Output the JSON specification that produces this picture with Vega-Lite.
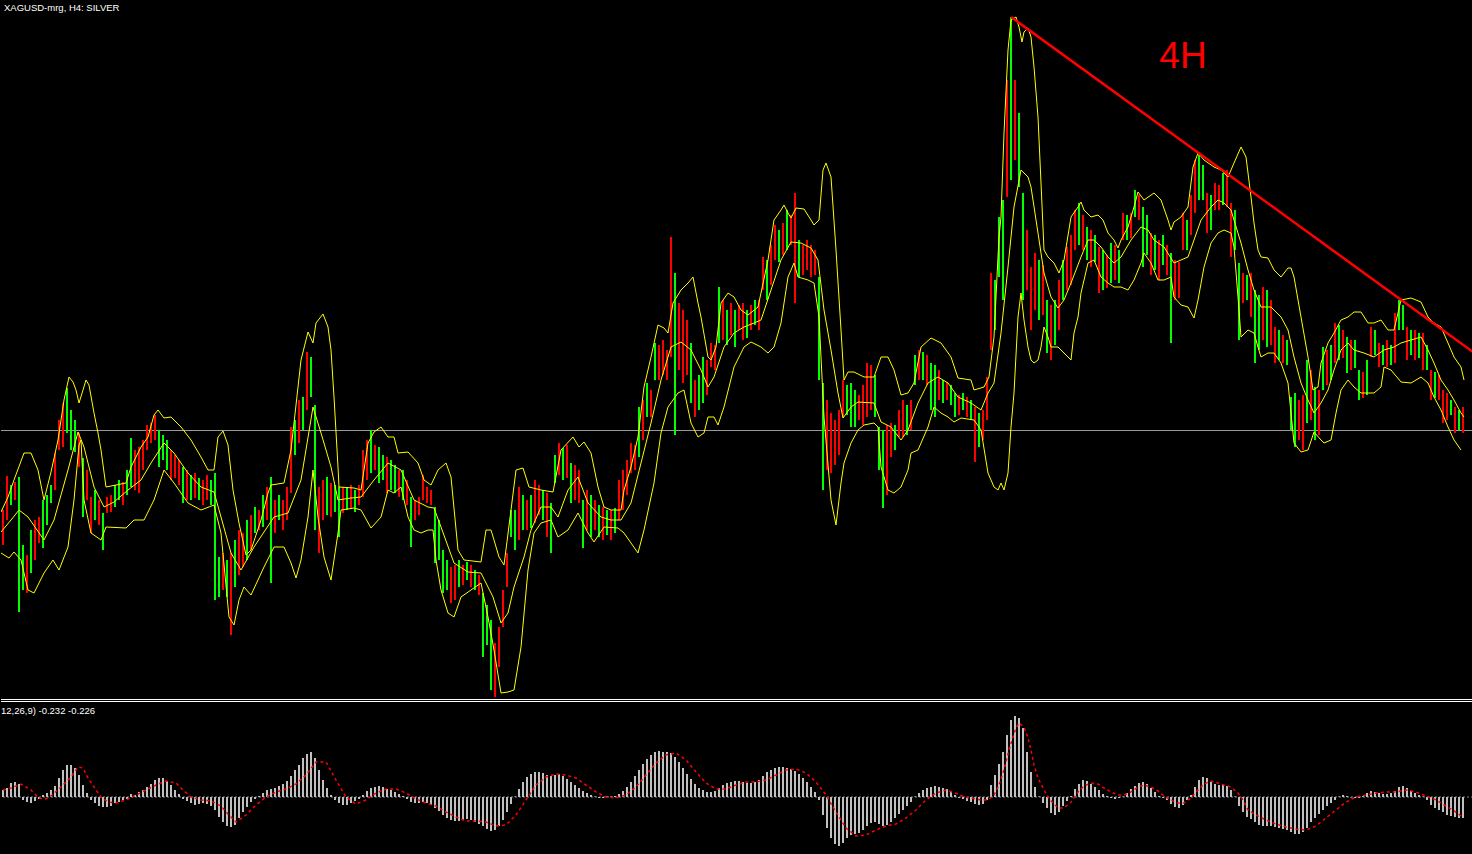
{
"$schema":"https://vega.github.io/schema/vega-lite/v6.json",
"background":"#000000",
"padding":0,
"spacing":0,
"config":{"view":{"stroke":null},"concat":{"spacing":0}},
"resolve":{"scale":{"x":"independent","y":"independent"}},
"datasets":{
"bars":[
{"t":0,"h":16.90,"l":16.55,"d":"d","m":0.078},{"t":4,"h":17.24,"l":16.80,"d":"d","m":0.100},{"t":8,"h":17.15,"l":16.95,"d":"u","m":0.156},{"t":12,"h":17.18,"l":17.00,"d":"d","m":0.167},{"t":16,"h":17.23,"l":15.88,"d":"u","m":0.144},{"t":20,"h":16.55,"l":16.10,"d":"u","m":-0.033},{"t":24,"h":16.45,"l":16.07,"d":"d","m":-0.056},{"t":28,"h":16.70,"l":16.27,"d":"u","m":-0.067},{"t":32,"h":16.80,"l":16.40,"d":"d","m":-0.044},{"t":36,"h":16.83,"l":16.57,"d":"d","m":-0.022},
{"t":40,"h":17.00,"l":16.52,"d":"u","m":0.022},{"t":44,"h":17.05,"l":16.75,"d":"u","m":0.044},{"t":48,"h":17.15,"l":16.97,"d":"u","m":0.078},{"t":52,"h":17.47,"l":17.10,"d":"d","m":0.122},{"t":56,"h":17.80,"l":17.50,"d":"d","m":0.211},{"t":60,"h":17.97,"l":17.53,"d":"d","m":0.300},{"t":64,"h":18.12,"l":17.67,"d":"u","m":0.356},{"t":68,"h":17.90,"l":17.50,"d":"u","m":0.356},{"t":72,"h":17.80,"l":17.48,"d":"u","m":0.322},{"t":76,"h":17.67,"l":17.33,"d":"d","m":0.244},
{"t":80,"h":17.42,"l":16.83,"d":"u","m":0.133},{"t":84,"h":17.30,"l":17.00,"d":"d","m":0.044},{"t":88,"h":17.03,"l":16.67,"d":"d","m":-0.033},{"t":92,"h":17.10,"l":16.80,"d":"u","m":-0.067},{"t":96,"h":17.00,"l":16.75,"d":"d","m":-0.100},{"t":100,"h":16.87,"l":16.50,"d":"u","m":-0.111},{"t":104,"h":17.03,"l":16.87,"d":"d","m":-0.111},{"t":108,"h":17.05,"l":16.88,"d":"d","m":-0.100},{"t":112,"h":17.15,"l":16.93,"d":"u","m":-0.067},{"t":116,"h":17.20,"l":17.00,"d":"u","m":-0.056},
{"t":120,"h":17.18,"l":16.95,"d":"d","m":-0.033},{"t":124,"h":17.30,"l":17.05,"d":"u","m":-0.022},{"t":128,"h":17.62,"l":17.13,"d":"u","m":0.033},{"t":132,"h":17.50,"l":17.10,"d":"d","m":0.022},{"t":136,"h":17.53,"l":17.07,"d":"d","m":0.056},{"t":140,"h":17.60,"l":17.30,"d":"d","m":0.078},{"t":144,"h":17.75,"l":17.50,"d":"d","m":0.111},{"t":148,"h":17.77,"l":17.57,"d":"d","m":0.144},{"t":152,"h":17.85,"l":17.60,"d":"d","m":0.189},{"t":156,"h":17.70,"l":17.33,"d":"u","m":0.211},
{"t":160,"h":17.65,"l":17.40,"d":"u","m":0.211},{"t":164,"h":17.60,"l":17.30,"d":"u","m":0.178},{"t":168,"h":17.50,"l":17.20,"d":"d","m":0.133},{"t":172,"h":17.45,"l":17.22,"d":"d","m":0.078},{"t":176,"h":17.40,"l":17.15,"d":"d","m":0.033},{"t":180,"h":17.33,"l":16.97,"d":"u","m":-0.022},{"t":184,"h":17.30,"l":17.00,"d":"d","m":-0.044},{"t":188,"h":17.25,"l":17.00,"d":"u","m":-0.067},{"t":192,"h":17.27,"l":17.02,"d":"d","m":-0.089},{"t":196,"h":17.22,"l":17.00,"d":"u","m":-0.078},
{"t":200,"h":17.20,"l":16.95,"d":"d","m":-0.067},{"t":204,"h":17.25,"l":17.00,"d":"d","m":-0.078},{"t":208,"h":17.20,"l":16.95,"d":"u","m":-0.100},{"t":212,"h":17.27,"l":16.00,"d":"u","m":-0.144},{"t":216,"h":16.43,"l":16.03,"d":"u","m":-0.222},{"t":220,"h":16.47,"l":16.10,"d":"d","m":-0.278},{"t":224,"h":16.40,"l":16.03,"d":"u","m":-0.322},{"t":228,"h":16.47,"l":15.65,"d":"d","m":-0.333},{"t":232,"h":16.60,"l":16.13,"d":"u","m":-0.311},{"t":236,"h":16.70,"l":16.25,"d":"d","m":-0.233},
{"t":240,"h":16.67,"l":16.33,"d":"d","m":-0.167},{"t":244,"h":16.80,"l":16.40,"d":"u","m":-0.111},{"t":248,"h":16.85,"l":16.50,"d":"d","m":-0.056},{"t":252,"h":16.93,"l":16.67,"d":"u","m":-0.022},{"t":256,"h":16.90,"l":16.70,"d":"d","m":0.011},{"t":260,"h":17.05,"l":16.73,"d":"u","m":0.044},{"t":264,"h":17.13,"l":16.80,"d":"d","m":0.078},{"t":268,"h":17.23,"l":16.17,"d":"u","m":0.089},{"t":272,"h":17.00,"l":16.67,"d":"d","m":0.100},{"t":276,"h":17.05,"l":16.80,"d":"u","m":0.122},
{"t":280,"h":17.00,"l":16.70,"d":"d","m":0.144},{"t":284,"h":17.13,"l":16.80,"d":"d","m":0.178},{"t":288,"h":17.73,"l":17.07,"d":"d","m":0.233},{"t":292,"h":17.80,"l":17.45,"d":"u","m":0.300},{"t":296,"h":18.00,"l":17.57,"d":"d","m":0.356},{"t":300,"h":18.03,"l":17.70,"d":"u","m":0.433},{"t":304,"h":18.48,"l":17.90,"d":"d","m":0.478},{"t":308,"h":18.43,"l":18.03,"d":"u","m":0.500},{"t":312,"h":17.95,"l":16.70,"d":"u","m":0.433},{"t":316,"h":17.13,"l":16.47,"d":"d","m":0.300},
{"t":320,"h":17.20,"l":16.80,"d":"d","m":0.189},{"t":324,"h":17.23,"l":16.85,"d":"u","m":0.100},{"t":328,"h":17.17,"l":16.83,"d":"d","m":0.022},{"t":332,"h":17.15,"l":16.88,"d":"u","m":-0.033},{"t":336,"h":17.13,"l":16.63,"d":"u","m":-0.067},{"t":340,"h":17.13,"l":16.87,"d":"d","m":-0.089},{"t":344,"h":17.12,"l":16.90,"d":"u","m":-0.089},{"t":348,"h":17.15,"l":16.92,"d":"d","m":-0.067},{"t":352,"h":17.10,"l":16.88,"d":"u","m":-0.044},{"t":356,"h":17.15,"l":16.95,"d":"d","m":-0.022},
{"t":360,"h":17.50,"l":17.03,"d":"d","m":0.022},{"t":364,"h":17.60,"l":17.20,"d":"d","m":0.067},{"t":368,"h":17.70,"l":17.27,"d":"u","m":0.100},{"t":372,"h":17.55,"l":17.30,"d":"d","m":0.111},{"t":376,"h":17.53,"l":17.17,"d":"u","m":0.122},{"t":380,"h":17.45,"l":17.20,"d":"u","m":0.111},{"t":384,"h":17.43,"l":17.07,"d":"d","m":0.089},{"t":388,"h":17.40,"l":17.10,"d":"u","m":0.078},{"t":392,"h":17.35,"l":17.07,"d":"u","m":0.056},{"t":396,"h":17.30,"l":17.03,"d":"d","m":0.033},
{"t":400,"h":17.30,"l":17.00,"d":"u","m":0.011},{"t":404,"h":17.20,"l":16.95,"d":"d","m":-0.022},{"t":408,"h":17.03,"l":16.53,"d":"u","m":-0.056},{"t":412,"h":17.00,"l":16.80,"d":"d","m":-0.067},{"t":416,"h":17.03,"l":16.85,"d":"d","m":-0.067},{"t":420,"h":17.25,"l":17.00,"d":"d","m":-0.056},{"t":424,"h":17.13,"l":16.97,"d":"d","m":-0.067},{"t":428,"h":17.10,"l":16.95,"d":"d","m":-0.089},{"t":432,"h":16.93,"l":16.37,"d":"u","m":-0.122},{"t":436,"h":16.80,"l":16.40,"d":"u","m":-0.156},
{"t":440,"h":16.50,"l":16.07,"d":"u","m":-0.200},{"t":444,"h":16.40,"l":16.10,"d":"u","m":-0.233},{"t":448,"h":16.33,"l":15.97,"d":"d","m":-0.256},{"t":452,"h":16.35,"l":16.00,"d":"d","m":-0.267},{"t":456,"h":16.40,"l":16.13,"d":"u","m":-0.267},{"t":460,"h":16.35,"l":16.15,"d":"d","m":-0.256},{"t":464,"h":16.38,"l":16.20,"d":"u","m":-0.244},{"t":468,"h":16.35,"l":16.13,"d":"d","m":-0.256},{"t":472,"h":16.30,"l":16.10,"d":"u","m":-0.278},{"t":476,"h":16.25,"l":16.05,"d":"d","m":-0.300},
{"t":480,"h":16.07,"l":15.43,"d":"u","m":-0.322},{"t":484,"h":15.95,"l":15.55,"d":"u","m":-0.356},{"t":488,"h":15.80,"l":15.10,"d":"u","m":-0.378},{"t":492,"h":15.57,"l":15.03,"d":"d","m":-0.367},{"t":496,"h":15.73,"l":15.33,"d":"d","m":-0.322},{"t":500,"h":16.10,"l":15.73,"d":"d","m":-0.256},{"t":504,"h":16.47,"l":16.13,"d":"d","m":-0.167},{"t":508,"h":16.90,"l":16.63,"d":"u","m":-0.078},{"t":512,"h":16.90,"l":16.50,"d":"u","m":0.005},{"t":516,"h":17.13,"l":16.60,"d":"d","m":0.089},
{"t":520,"h":17.05,"l":16.70,"d":"u","m":0.167},{"t":524,"h":17.00,"l":16.70,"d":"d","m":0.222},{"t":528,"h":17.05,"l":16.72,"d":"u","m":0.256},{"t":532,"h":17.20,"l":16.77,"d":"d","m":0.278},{"t":536,"h":17.15,"l":16.85,"d":"d","m":0.278},{"t":540,"h":17.10,"l":16.80,"d":"u","m":0.267},{"t":544,"h":17.07,"l":16.63,"d":"d","m":0.244},{"t":548,"h":16.97,"l":16.47,"d":"u","m":0.233},{"t":552,"h":17.45,"l":17.17,"d":"u","m":0.244},{"t":556,"h":17.57,"l":17.25,"d":"d","m":0.256},
{"t":560,"h":17.52,"l":17.20,"d":"u","m":0.233},{"t":564,"h":17.55,"l":17.22,"d":"d","m":0.200},{"t":568,"h":17.37,"l":16.97,"d":"u","m":0.167},{"t":572,"h":17.35,"l":17.00,"d":"d","m":0.133},{"t":576,"h":17.30,"l":16.97,"d":"d","m":0.100},{"t":580,"h":17.00,"l":16.52,"d":"u","m":0.067},{"t":584,"h":17.10,"l":16.70,"d":"d","m":0.044},{"t":588,"h":17.05,"l":16.63,"d":"u","m":0.022},{"t":592,"h":17.00,"l":16.70,"d":"d","m":0.005},{"t":596,"h":16.95,"l":16.63,"d":"u","m":-0.011},
{"t":600,"h":16.93,"l":16.60,"d":"d","m":-0.011},{"t":604,"h":16.90,"l":16.65,"d":"u","m":0.005},{"t":608,"h":16.90,"l":16.60,"d":"d","m":0.005},{"t":612,"h":16.92,"l":16.67,"d":"u","m":0.011},{"t":616,"h":17.20,"l":16.80,"d":"d","m":0.033},{"t":620,"h":17.30,"l":16.90,"d":"d","m":0.067},{"t":624,"h":17.40,"l":17.05,"d":"d","m":0.111},{"t":628,"h":17.57,"l":17.27,"d":"d","m":0.167},{"t":632,"h":17.55,"l":17.30,"d":"d","m":0.233},{"t":636,"h":17.93,"l":17.43,"d":"u","m":0.300},
{"t":640,"h":18.00,"l":17.60,"d":"d","m":0.367},{"t":644,"h":18.17,"l":17.83,"d":"u","m":0.422},{"t":648,"h":18.10,"l":17.83,"d":"d","m":0.467},{"t":652,"h":18.57,"l":18.20,"d":"u","m":0.500},{"t":656,"h":18.55,"l":18.20,"d":"d","m":0.511},{"t":660,"h":18.60,"l":18.25,"d":"d","m":0.500},{"t":664,"h":18.50,"l":18.20,"d":"d","m":0.500},{"t":668,"h":19.63,"l":18.43,"d":"d","m":0.489},{"t":672,"h":19.27,"l":17.65,"d":"u","m":0.444},{"t":676,"h":18.97,"l":18.30,"d":"d","m":0.389},
{"t":680,"h":18.90,"l":18.17,"d":"d","m":0.322},{"t":684,"h":18.80,"l":18.25,"d":"d","m":0.256},{"t":688,"h":18.57,"l":17.97,"d":"u","m":0.200},{"t":692,"h":18.20,"l":17.83,"d":"d","m":0.144},{"t":696,"h":18.25,"l":17.90,"d":"u","m":0.100},{"t":700,"h":18.43,"l":17.97,"d":"u","m":0.078},{"t":704,"h":18.40,"l":18.05,"d":"d","m":0.056},{"t":708,"h":18.57,"l":18.33,"d":"d","m":0.056},{"t":712,"h":18.55,"l":18.30,"d":"d","m":0.067},{"t":716,"h":19.13,"l":18.57,"d":"u","m":0.100},
{"t":720,"h":19.00,"l":18.60,"d":"d","m":0.133},{"t":724,"h":18.90,"l":18.55,"d":"u","m":0.156},{"t":728,"h":18.97,"l":18.65,"d":"d","m":0.167},{"t":732,"h":18.90,"l":18.53,"d":"u","m":0.178},{"t":736,"h":18.95,"l":18.70,"d":"d","m":0.178},{"t":740,"h":18.97,"l":18.60,"d":"d","m":0.167},{"t":744,"h":18.90,"l":18.62,"d":"u","m":0.156},{"t":748,"h":18.95,"l":18.70,"d":"d","m":0.156},{"t":752,"h":19.00,"l":18.75,"d":"u","m":0.167},{"t":756,"h":19.00,"l":18.70,"d":"d","m":0.189},
{"t":760,"h":19.43,"l":19.10,"d":"d","m":0.233},{"t":764,"h":19.40,"l":19.00,"d":"u","m":0.278},{"t":768,"h":19.55,"l":19.15,"d":"d","m":0.300},{"t":772,"h":19.75,"l":19.40,"d":"d","m":0.322},{"t":776,"h":19.70,"l":19.38,"d":"u","m":0.333},{"t":780,"h":19.77,"l":19.45,"d":"d","m":0.333},{"t":784,"h":19.90,"l":19.50,"d":"u","m":0.322},{"t":788,"h":19.85,"l":19.55,"d":"d","m":0.311},{"t":792,"h":20.07,"l":18.97,"d":"d","m":0.289},{"t":796,"h":19.60,"l":19.23,"d":"u","m":0.256},
{"t":800,"h":19.55,"l":19.25,"d":"d","m":0.211},{"t":804,"h":19.60,"l":19.30,"d":"d","m":0.167},{"t":808,"h":19.55,"l":19.23,"d":"d","m":0.111},{"t":812,"h":19.50,"l":19.25,"d":"d","m":0.056},{"t":816,"h":19.23,"l":18.20,"d":"u","m":-0.033},{"t":820,"h":18.17,"l":17.10,"d":"u","m":-0.200},{"t":824,"h":18.00,"l":17.30,"d":"d","m":-0.344},{"t":828,"h":17.87,"l":17.27,"d":"d","m":-0.456},{"t":832,"h":17.80,"l":17.35,"d":"d","m":-0.522},{"t":836,"h":17.90,"l":17.45,"d":"d","m":-0.544},
{"t":840,"h":18.20,"l":17.83,"d":"d","m":-0.511},{"t":844,"h":18.15,"l":17.85,"d":"u","m":-0.456},{"t":848,"h":18.17,"l":17.73,"d":"u","m":-0.422},{"t":852,"h":18.10,"l":17.73,"d":"u","m":-0.411},{"t":856,"h":18.05,"l":17.80,"d":"d","m":-0.400},{"t":860,"h":18.15,"l":17.75,"d":"d","m":-0.367},{"t":864,"h":18.37,"l":17.83,"d":"d","m":-0.322},{"t":868,"h":18.35,"l":17.90,"d":"d","m":-0.289},{"t":872,"h":18.25,"l":17.83,"d":"u","m":-0.278},{"t":876,"h":17.73,"l":17.30,"d":"u","m":-0.300},
{"t":880,"h":17.70,"l":16.92,"d":"u","m":-0.322},{"t":884,"h":17.75,"l":17.05,"d":"d","m":-0.311},{"t":888,"h":17.77,"l":17.43,"d":"d","m":-0.278},{"t":892,"h":17.75,"l":17.50,"d":"u","m":-0.233},{"t":896,"h":17.90,"l":17.63,"d":"d","m":-0.189},{"t":900,"h":18.00,"l":17.63,"d":"d","m":-0.144},{"t":904,"h":17.95,"l":17.65,"d":"u","m":-0.100},{"t":908,"h":18.00,"l":17.70,"d":"d","m":-0.056},{"t":912,"h":18.45,"l":18.15,"d":"u","m":0.005},{"t":916,"h":18.50,"l":18.20,"d":"d","m":0.044},
{"t":920,"h":18.48,"l":18.20,"d":"u","m":0.078},{"t":924,"h":18.45,"l":18.15,"d":"d","m":0.100},{"t":928,"h":18.37,"l":17.90,"d":"u","m":0.111},{"t":932,"h":18.35,"l":17.83,"d":"u","m":0.122},{"t":936,"h":18.30,"l":18.00,"d":"d","m":0.111},{"t":940,"h":18.20,"l":17.97,"d":"u","m":0.100},{"t":944,"h":18.18,"l":18.00,"d":"d","m":0.089},{"t":948,"h":18.15,"l":17.95,"d":"u","m":0.067},{"t":952,"h":18.07,"l":17.83,"d":"u","m":0.022},{"t":956,"h":18.05,"l":17.85,"d":"d","m":-0.011},
{"t":960,"h":18.07,"l":17.90,"d":"u","m":-0.022},{"t":964,"h":18.03,"l":17.83,"d":"d","m":-0.044},{"t":968,"h":18.00,"l":17.80,"d":"u","m":-0.056},{"t":972,"h":17.93,"l":17.38,"d":"d","m":-0.078},{"t":976,"h":17.87,"l":17.53,"d":"u","m":-0.089},{"t":980,"h":17.90,"l":17.60,"d":"d","m":-0.078},{"t":984,"h":18.23,"l":17.80,"d":"d","m":-0.033},{"t":988,"h":19.27,"l":18.50,"d":"d","m":0.133},{"t":992,"h":19.20,"l":18.70,"d":"u","m":0.244},{"t":996,"h":19.83,"l":19.23,"d":"u","m":0.367},
{"t":1000,"h":20.00,"l":19.00,"d":"u","m":0.500},{"t":1004,"h":21.20,"l":20.03,"d":"d","m":0.689},{"t":1008,"h":21.83,"l":20.20,"d":"u","m":0.856},{"t":1012,"h":21.20,"l":20.40,"d":"d","m":0.900},{"t":1016,"h":20.87,"l":20.13,"d":"u","m":0.878},{"t":1020,"h":20.07,"l":19.00,"d":"u","m":0.767},{"t":1024,"h":19.70,"l":19.10,"d":"d","m":0.500},{"t":1028,"h":19.33,"l":18.70,"d":"d","m":0.278},{"t":1032,"h":19.47,"l":18.90,"d":"d","m":0.111},{"t":1036,"h":19.40,"l":18.80,"d":"u","m":0.005},
{"t":1040,"h":19.35,"l":18.85,"d":"d","m":-0.067},{"t":1044,"h":19.00,"l":18.47,"d":"u","m":-0.122},{"t":1048,"h":18.95,"l":18.40,"d":"d","m":-0.178},{"t":1052,"h":19.00,"l":18.55,"d":"u","m":-0.200},{"t":1056,"h":19.20,"l":18.70,"d":"d","m":-0.167},{"t":1060,"h":19.40,"l":19.00,"d":"u","m":-0.100},{"t":1064,"h":19.53,"l":19.10,"d":"d","m":-0.044},{"t":1068,"h":19.65,"l":19.15,"d":"d","m":0.011},{"t":1072,"h":19.90,"l":19.50,"d":"d","m":0.089},{"t":1076,"h":19.97,"l":19.55,"d":"u","m":0.144},
{"t":1080,"h":19.85,"l":19.50,"d":"d","m":0.189},{"t":1084,"h":19.73,"l":19.40,"d":"u","m":0.178},{"t":1088,"h":19.70,"l":19.33,"d":"d","m":0.144},{"t":1092,"h":19.65,"l":19.38,"d":"u","m":0.111},{"t":1096,"h":19.53,"l":19.07,"d":"d","m":0.078},{"t":1100,"h":19.50,"l":19.10,"d":"u","m":0.033},{"t":1104,"h":19.45,"l":19.12,"d":"d","m":0.011},{"t":1108,"h":19.57,"l":19.17,"d":"u","m":-0.011},{"t":1112,"h":19.55,"l":19.20,"d":"d","m":-0.022},{"t":1116,"h":19.50,"l":19.17,"d":"u","m":-0.011},
{"t":1120,"h":19.87,"l":19.60,"d":"d","m":0.005},{"t":1124,"h":19.85,"l":19.60,"d":"u","m":0.044},{"t":1128,"h":19.87,"l":19.62,"d":"d","m":0.089},{"t":1132,"h":20.10,"l":19.83,"d":"u","m":0.122},{"t":1136,"h":20.05,"l":19.80,"d":"d","m":0.156},{"t":1140,"h":19.93,"l":19.33,"d":"u","m":0.167},{"t":1144,"h":19.85,"l":19.45,"d":"u","m":0.144},{"t":1148,"h":19.67,"l":19.25,"d":"d","m":0.100},{"t":1152,"h":19.65,"l":19.30,"d":"u","m":0.056},{"t":1156,"h":19.60,"l":19.20,"d":"d","m":0.011},
{"t":1160,"h":19.65,"l":19.35,"d":"u","m":-0.011},{"t":1164,"h":19.55,"l":19.25,"d":"d","m":-0.033},{"t":1168,"h":19.47,"l":18.57,"d":"u","m":-0.078},{"t":1172,"h":19.40,"l":19.00,"d":"d","m":-0.111},{"t":1176,"h":19.38,"l":19.02,"d":"d","m":-0.122},{"t":1180,"h":19.87,"l":19.50,"d":"d","m":-0.089},{"t":1184,"h":19.80,"l":19.50,"d":"u","m":-0.033},{"t":1188,"h":20.05,"l":19.65,"d":"d","m":0.022},{"t":1192,"h":20.40,"l":19.87,"d":"d","m":0.111},{"t":1196,"h":20.45,"l":20.00,"d":"u","m":0.189},
{"t":1200,"h":20.35,"l":20.00,"d":"u","m":0.222},{"t":1204,"h":20.07,"l":19.67,"d":"d","m":0.211},{"t":1208,"h":20.05,"l":19.70,"d":"u","m":0.167},{"t":1212,"h":20.17,"l":19.90,"d":"d","m":0.144},{"t":1216,"h":20.15,"l":19.90,"d":"d","m":0.133},{"t":1220,"h":20.27,"l":19.95,"d":"u","m":0.133},{"t":1224,"h":20.30,"l":19.93,"d":"d","m":0.122},{"t":1228,"h":19.97,"l":19.43,"d":"d","m":0.078},{"t":1232,"h":19.90,"l":19.50,"d":"u","m":0.005},{"t":1236,"h":19.37,"l":18.60,"d":"u","m":-0.100},
{"t":1240,"h":19.27,"l":18.97,"d":"d","m":-0.167},{"t":1244,"h":19.25,"l":19.00,"d":"u","m":-0.222},{"t":1248,"h":19.27,"l":18.83,"d":"d","m":-0.244},{"t":1252,"h":19.10,"l":18.37,"d":"u","m":-0.278},{"t":1256,"h":19.05,"l":18.50,"d":"u","m":-0.311},{"t":1260,"h":19.13,"l":18.60,"d":"d","m":-0.322},{"t":1264,"h":19.10,"l":18.53,"d":"u","m":-0.322},{"t":1268,"h":19.00,"l":18.55,"d":"d","m":-0.322},{"t":1272,"h":18.73,"l":18.37,"d":"d","m":-0.333},{"t":1276,"h":18.70,"l":18.40,"d":"u","m":-0.344},
{"t":1280,"h":18.65,"l":18.37,"d":"d","m":-0.356},{"t":1284,"h":18.60,"l":18.35,"d":"u","m":-0.367},{"t":1288,"h":18.03,"l":17.70,"d":"u","m":-0.389},{"t":1292,"h":18.07,"l":17.53,"d":"u","m":-0.411},{"t":1296,"h":18.00,"l":17.60,"d":"d","m":-0.411},{"t":1300,"h":18.05,"l":17.50,"d":"d","m":-0.389},{"t":1304,"h":18.40,"l":17.77,"d":"u","m":-0.344},{"t":1308,"h":18.30,"l":17.80,"d":"d","m":-0.278},{"t":1312,"h":18.13,"l":17.60,"d":"u","m":-0.233},{"t":1316,"h":18.10,"l":17.65,"d":"d","m":-0.189},
{"t":1320,"h":18.53,"l":18.10,"d":"u","m":-0.144},{"t":1324,"h":18.50,"l":18.15,"d":"d","m":-0.100},{"t":1328,"h":18.55,"l":18.20,"d":"u","m":-0.067},{"t":1332,"h":18.77,"l":18.37,"d":"d","m":-0.033},{"t":1336,"h":18.75,"l":18.40,"d":"u","m":0.005},{"t":1340,"h":18.70,"l":18.42,"d":"d","m":0.022},{"t":1344,"h":18.63,"l":18.27,"d":"u","m":0.011},{"t":1348,"h":18.60,"l":18.30,"d":"d","m":-0.005},{"t":1352,"h":18.60,"l":18.32,"d":"u","m":-0.011},{"t":1356,"h":18.30,"l":18.00,"d":"u","m":-0.011},
{"t":1360,"h":18.28,"l":18.02,"d":"d","m":0.011},{"t":1364,"h":18.40,"l":18.05,"d":"u","m":0.044},{"t":1368,"h":18.73,"l":18.43,"d":"d","m":0.067},{"t":1372,"h":18.70,"l":18.45,"d":"u","m":0.056},{"t":1376,"h":18.57,"l":18.33,"d":"d","m":0.044},{"t":1380,"h":18.55,"l":18.35,"d":"u","m":0.033},{"t":1384,"h":18.60,"l":18.33,"d":"d","m":0.033},{"t":1388,"h":18.55,"l":18.35,"d":"u","m":0.044},{"t":1392,"h":18.87,"l":18.37,"d":"d","m":0.067},{"t":1396,"h":19.00,"l":18.70,"d":"u","m":0.111},
{"t":1400,"h":18.95,"l":18.70,"d":"u","m":0.122},{"t":1404,"h":18.73,"l":18.40,"d":"d","m":0.100},{"t":1408,"h":18.70,"l":18.45,"d":"u","m":0.067},{"t":1412,"h":18.70,"l":18.40,"d":"d","m":0.044},{"t":1416,"h":18.67,"l":18.42,"d":"u","m":0.022},{"t":1420,"h":18.67,"l":18.30,"d":"d","m":0.005},{"t":1424,"h":18.55,"l":18.30,"d":"u","m":-0.033},{"t":1428,"h":18.30,"l":18.00,"d":"d","m":-0.089},{"t":1432,"h":18.28,"l":18.02,"d":"u","m":-0.122},{"t":1436,"h":18.25,"l":18.00,"d":"d","m":-0.144},
{"t":1440,"h":18.10,"l":17.77,"d":"d","m":-0.167},{"t":1444,"h":18.07,"l":17.80,"d":"d","m":-0.200},{"t":1448,"h":18.00,"l":17.85,"d":"u","m":-0.211},{"t":1452,"h":17.93,"l":17.67,"d":"d","m":-0.222},{"t":1456,"h":17.90,"l":17.70,"d":"u","m":-0.233},{"t":1460,"h":17.93,"l":17.67,"d":"d","m":-0.232}
],
"bands":[
{"b":"U","t":-2,"p":16.88},{"b":"U","t":5,"p":17.03},{"b":"U","t":11,"p":17.20},{"b":"U","t":21,"p":17.47},{"b":"U","t":28,"p":17.47},{"b":"U","t":35,"p":17.30},{"b":"U","t":41,"p":17.00},{"b":"U","t":48,"p":17.28},{"b":"U","t":55,"p":17.60},{"b":"U","t":61,"p":18.00},{"b":"U","t":66,"p":18.23},{"b":"U","t":70,"p":18.18},{"b":"U","t":73,"p":18.10},{"b":"U","t":76,"p":17.97},{"b":"U","t":80,"p":18.10},{"b":"U","t":83,"p":18.20},{"b":"U","t":86,"p":18.15},{"b":"U","t":91,"p":17.87},{"b":"U","t":95,"p":17.67},{"b":"U","t":98,"p":17.50},{"b":"U","t":103,"p":17.13},{"b":"U","t":113,"p":17.15},{"b":"U","t":123,"p":17.17},{"b":"U","t":128,"p":17.33},{"b":"U","t":138,"p":17.53},{"b":"U","t":145,"p":17.63},{"b":"U","t":151,"p":17.85},{"b":"U","t":155,"p":17.90},{"b":"U","t":161,"p":17.82},{"b":"U","t":168,"p":17.83},{"b":"U","t":178,"p":17.73},{"b":"U","t":188,"p":17.60},{"b":"U","t":198,"p":17.43},{"b":"U","t":205,"p":17.30},{"b":"U","t":211,"p":17.30},{"b":"U","t":215,"p":17.63},{"b":"U","t":220,"p":17.69},{"b":"U","t":225,"p":17.55},{"b":"U","t":230,"p":17.10},{"b":"U","t":236,"p":16.77},{"b":"U","t":243,"p":16.45},{"b":"U","t":248,"p":16.50},{"b":"U","t":258,"p":16.80},{"b":"U","t":265,"p":17.07},{"b":"U","t":268,"p":17.15},{"b":"U","t":281,"p":17.17},{"b":"U","t":288,"p":17.50},{"b":"U","t":298,"p":18.40},{"b":"U","t":305,"p":18.68},{"b":"U","t":310,"p":18.57},{"b":"U","t":313,"p":18.77},{"b":"U","t":320,"p":18.86},{"b":"U","t":325,"p":18.73},{"b":"U","t":328,"p":18.50},{"b":"U","t":331,"p":18.03},{"b":"U","t":335,"p":17.33},{"b":"U","t":336,"p":17.13},{"b":"U","t":351,"p":17.12},{"b":"U","t":358,"p":17.10},{"b":"U","t":365,"p":17.57},{"b":"U","t":371,"p":17.68},{"b":"U","t":378,"p":17.73},{"b":"U","t":385,"p":17.63},{"b":"U","t":391,"p":17.63},{"b":"U","t":395,"p":17.47},{"b":"U","t":405,"p":17.48},{"b":"U","t":415,"p":17.37},{"b":"U","t":421,"p":17.20},{"b":"U","t":428,"p":17.15},{"b":"U","t":435,"p":17.30},{"b":"U","t":443,"p":17.37},{"b":"U","t":448,"p":17.23},{"b":"U","t":455,"p":16.50},{"b":"U","t":461,"p":16.40},{"b":"U","t":478,"p":16.38},{"b":"U","t":483,"p":16.70},{"b":"U","t":488,"p":16.70},{"b":"U","t":491,"p":16.60},{"b":"U","t":496,"p":16.43},{"b":"U","t":501,"p":16.35},{"b":"U","t":508,"p":16.90},{"b":"U","t":513,"p":17.30},{"b":"U","t":520,"p":17.32},{"b":"U","t":526,"p":17.13},{"b":"U","t":538,"p":17.10},{"b":"U","t":550,"p":17.08},{"b":"U","t":558,"p":17.50},{"b":"U","t":570,"p":17.63},{"b":"U","t":576,"p":17.53},{"b":"U","t":581,"p":17.58},{"b":"U","t":588,"p":17.47},{"b":"U","t":595,"p":17.13},{"b":"U","t":601,"p":16.93},{"b":"U","t":608,"p":16.90},{"b":"U","t":618,"p":16.90},{"b":"U","t":621,"p":17.10},{"b":"U","t":628,"p":17.33},{"b":"U","t":635,"p":17.63},{"b":"U","t":641,"p":18.13},{"b":"U","t":648,"p":18.43},{"b":"U","t":655,"p":18.75},{"b":"U","t":661,"p":18.72},{"b":"U","t":665,"p":18.67},{"b":"U","t":670,"p":18.97},{"b":"U","t":678,"p":19.10},{"b":"U","t":685,"p":19.17},{"b":"U","t":690,"p":19.23},{"b":"U","t":695,"p":18.97},{"b":"U","t":698,"p":18.83},{"b":"U","t":705,"p":18.43},{"b":"U","t":708,"p":18.40},{"b":"U","t":713,"p":18.53},{"b":"U","t":718,"p":18.97},{"b":"U","t":725,"p":19.07},{"b":"U","t":731,"p":19.03},{"b":"U","t":738,"p":18.90},{"b":"U","t":745,"p":18.85},{"b":"U","t":755,"p":18.93},{"b":"U","t":765,"p":19.40},{"b":"U","t":771,"p":19.80},{"b":"U","t":778,"p":19.90},{"b":"U","t":781,"p":19.95},{"b":"U","t":785,"p":19.87},{"b":"U","t":788,"p":19.82},{"b":"U","t":793,"p":19.92},{"b":"U","t":801,"p":19.91},{"b":"U","t":808,"p":19.80},{"b":"U","t":811,"p":19.75},{"b":"U","t":816,"p":19.80},{"b":"U","t":820,"p":20.30},{"b":"U","t":823,"p":20.37},{"b":"U","t":828,"p":20.23},{"b":"U","t":833,"p":19.50},{"b":"U","t":838,"p":18.70},{"b":"U","t":841,"p":18.20},{"b":"U","t":845,"p":18.28},{"b":"U","t":851,"p":18.28},{"b":"U","t":861,"p":18.23},{"b":"U","t":871,"p":18.23},{"b":"U","t":878,"p":18.43},{"b":"U","t":885,"p":18.43},{"b":"U","t":891,"p":18.30},{"b":"U","t":898,"p":18.05},{"b":"U","t":905,"p":18.07},{"b":"U","t":911,"p":18.17},{"b":"U","t":918,"p":18.53},{"b":"U","t":928,"p":18.62},{"b":"U","t":938,"p":18.57},{"b":"U","t":948,"p":18.43},{"b":"U","t":955,"p":18.22},{"b":"U","t":968,"p":18.20},{"b":"U","t":971,"p":18.10},{"b":"U","t":981,"p":18.13},{"b":"U","t":986,"p":18.23},{"b":"U","t":991,"p":18.63},{"b":"U","t":996,"p":19.63},{"b":"U","t":998,"p":19.83},{"b":"U","t":1001,"p":20.67},{"b":"U","t":1005,"p":21.50},{"b":"U","t":1008,"p":21.80},{"b":"U","t":1013,"p":21.83},{"b":"U","t":1016,"p":21.73},{"b":"U","t":1019,"p":21.58},{"b":"U","t":1021,"p":21.68},{"b":"U","t":1025,"p":21.72},{"b":"U","t":1028,"p":21.63},{"b":"U","t":1031,"p":21.33},{"b":"U","t":1035,"p":20.83},{"b":"U","t":1038,"p":20.17},{"b":"U","t":1041,"p":19.50},{"b":"U","t":1045,"p":19.43},{"b":"U","t":1051,"p":19.37},{"b":"U","t":1056,"p":19.27},{"b":"U","t":1061,"p":19.40},{"b":"U","t":1068,"p":19.83},{"b":"U","t":1075,"p":19.93},{"b":"U","t":1078,"p":19.98},{"b":"U","t":1081,"p":19.90},{"b":"U","t":1088,"p":19.83},{"b":"U","t":1095,"p":19.85},{"b":"U","t":1100,"p":19.80},{"b":"U","t":1105,"p":19.67},{"b":"U","t":1111,"p":19.60},{"b":"U","t":1115,"p":19.52},{"b":"U","t":1118,"p":19.60},{"b":"U","t":1125,"p":19.73},{"b":"U","t":1131,"p":19.93},{"b":"U","t":1135,"p":20.08},{"b":"U","t":1141,"p":20.00},{"b":"U","t":1151,"p":20.07},{"b":"U","t":1158,"p":20.00},{"b":"U","t":1165,"p":19.80},{"b":"U","t":1168,"p":19.70},{"b":"U","t":1171,"p":19.78},{"b":"U","t":1178,"p":19.83},{"b":"U","t":1185,"p":19.93},{"b":"U","t":1190,"p":20.33},{"b":"U","t":1195,"p":20.47},{"b":"U","t":1201,"p":20.40},{"b":"U","t":1211,"p":20.33},{"b":"U","t":1218,"p":20.30},{"b":"U","t":1225,"p":20.23},{"b":"U","t":1231,"p":20.37},{"b":"U","t":1238,"p":20.53},{"b":"U","t":1243,"p":20.43},{"b":"U","t":1248,"p":20.03},{"b":"U","t":1251,"p":19.77},{"b":"U","t":1255,"p":19.50},{"b":"U","t":1258,"p":19.43},{"b":"U","t":1265,"p":19.42},{"b":"U","t":1271,"p":19.30},{"b":"U","t":1278,"p":19.23},{"b":"U","t":1285,"p":19.32},{"b":"U","t":1288,"p":19.32},{"b":"U","t":1291,"p":19.23},{"b":"U","t":1298,"p":18.83},{"b":"U","t":1305,"p":18.43},{"b":"U","t":1310,"p":18.10},{"b":"U","t":1315,"p":18.13},{"b":"U","t":1318,"p":18.37},{"b":"U","t":1325,"p":18.57},{"b":"U","t":1331,"p":18.67},{"b":"U","t":1338,"p":18.80},{"b":"U","t":1345,"p":18.83},{"b":"U","t":1351,"p":18.88},{"b":"U","t":1358,"p":18.88},{"b":"U","t":1365,"p":18.77},{"b":"U","t":1371,"p":18.77},{"b":"U","t":1378,"p":18.80},{"b":"U","t":1385,"p":18.70},{"b":"U","t":1391,"p":18.70},{"b":"U","t":1398,"p":19.00},{"b":"U","t":1408,"p":19.02},{"b":"U","t":1418,"p":18.98},{"b":"U","t":1425,"p":18.83},{"b":"U","t":1431,"p":18.77},{"b":"U","t":1438,"p":18.73},{"b":"U","t":1445,"p":18.57},{"b":"U","t":1451,"p":18.43},{"b":"U","t":1458,"p":18.33},{"b":"U","t":1461,"p":18.20},
{"b":"M","t":-2,"p":16.68},{"b":"M","t":8,"p":16.80},{"b":"M","t":16,"p":16.90},{"b":"M","t":25,"p":16.83},{"b":"M","t":41,"p":16.60},{"b":"M","t":51,"p":16.80},{"b":"M","t":65,"p":17.30},{"b":"M","t":75,"p":17.68},{"b":"M","t":81,"p":17.53},{"b":"M","t":91,"p":17.13},{"b":"M","t":101,"p":16.93},{"b":"M","t":111,"p":16.98},{"b":"M","t":125,"p":17.10},{"b":"M","t":138,"p":17.20},{"b":"M","t":148,"p":17.37},{"b":"M","t":161,"p":17.57},{"b":"M","t":171,"p":17.47},{"b":"M","t":185,"p":17.27},{"b":"M","t":198,"p":17.13},{"b":"M","t":211,"p":17.08},{"b":"M","t":218,"p":16.83},{"b":"M","t":228,"p":16.47},{"b":"M","t":238,"p":16.30},{"b":"M","t":251,"p":16.53},{"b":"M","t":271,"p":16.83},{"b":"M","t":285,"p":16.87},{"b":"M","t":298,"p":17.20},{"b":"M","t":310,"p":17.93},{"b":"M","t":318,"p":17.67},{"b":"M","t":328,"p":17.33},{"b":"M","t":335,"p":17.00},{"b":"M","t":348,"p":17.02},{"b":"M","t":358,"p":17.03},{"b":"M","t":371,"p":17.20},{"b":"M","t":385,"p":17.37},{"b":"M","t":398,"p":17.30},{"b":"M","t":411,"p":17.00},{"b":"M","t":425,"p":16.93},{"b":"M","t":431,"p":16.92},{"b":"M","t":438,"p":16.73},{"b":"M","t":451,"p":16.37},{"b":"M","t":465,"p":16.28},{"b":"M","t":478,"p":16.27},{"b":"M","t":485,"p":16.13},{"b":"M","t":490,"p":16.03},{"b":"M","t":498,"p":15.77},{"b":"M","t":505,"p":15.87},{"b":"M","t":511,"p":16.13},{"b":"M","t":521,"p":16.43},{"b":"M","t":528,"p":16.70},{"b":"M","t":538,"p":16.93},{"b":"M","t":548,"p":16.93},{"b":"M","t":555,"p":16.83},{"b":"M","t":565,"p":17.10},{"b":"M","t":575,"p":17.23},{"b":"M","t":585,"p":16.97},{"b":"M","t":598,"p":16.83},{"b":"M","t":608,"p":16.80},{"b":"M","t":618,"p":16.80},{"b":"M","t":628,"p":16.97},{"b":"M","t":638,"p":17.37},{"b":"M","t":648,"p":17.77},{"b":"M","t":658,"p":18.20},{"b":"M","t":668,"p":18.53},{"b":"M","t":678,"p":18.58},{"b":"M","t":688,"p":18.50},{"b":"M","t":698,"p":18.30},{"b":"M","t":705,"p":18.13},{"b":"M","t":711,"p":18.23},{"b":"M","t":721,"p":18.53},{"b":"M","t":731,"p":18.67},{"b":"M","t":741,"p":18.73},{"b":"M","t":751,"p":18.77},{"b":"M","t":758,"p":18.80},{"b":"M","t":768,"p":19.10},{"b":"M","t":778,"p":19.40},{"b":"M","t":788,"p":19.58},{"b":"M","t":798,"p":19.57},{"b":"M","t":808,"p":19.52},{"b":"M","t":815,"p":19.40},{"b":"M","t":821,"p":18.90},{"b":"M","t":828,"p":18.50},{"b":"M","t":835,"p":18.07},{"b":"M","t":840,"p":17.82},{"b":"M","t":848,"p":17.93},{"b":"M","t":855,"p":17.98},{"b":"M","t":871,"p":17.97},{"b":"M","t":878,"p":17.78},{"b":"M","t":888,"p":17.73},{"b":"M","t":898,"p":17.60},{"b":"M","t":905,"p":17.70},{"b":"M","t":915,"p":17.97},{"b":"M","t":925,"p":18.17},{"b":"M","t":935,"p":18.23},{"b":"M","t":945,"p":18.17},{"b":"M","t":955,"p":18.03},{"b":"M","t":968,"p":17.97},{"b":"M","t":978,"p":17.90},{"b":"M","t":985,"p":18.07},{"b":"M","t":991,"p":18.17},{"b":"M","t":998,"p":18.67},{"b":"M","t":1005,"p":19.33},{"b":"M","t":1011,"p":19.93},{"b":"M","t":1018,"p":20.30},{"b":"M","t":1025,"p":20.23},{"b":"M","t":1028,"p":20.13},{"b":"M","t":1035,"p":19.67},{"b":"M","t":1041,"p":19.27},{"b":"M","t":1048,"p":19.03},{"b":"M","t":1055,"p":18.92},{"b":"M","t":1061,"p":19.00},{"b":"M","t":1068,"p":19.17},{"b":"M","t":1078,"p":19.43},{"b":"M","t":1085,"p":19.60},{"b":"M","t":1091,"p":19.60},{"b":"M","t":1098,"p":19.53},{"b":"M","t":1105,"p":19.43},{"b":"M","t":1111,"p":19.37},{"b":"M","t":1118,"p":19.43},{"b":"M","t":1128,"p":19.60},{"b":"M","t":1138,"p":19.73},{"b":"M","t":1145,"p":19.70},{"b":"M","t":1151,"p":19.60},{"b":"M","t":1161,"p":19.53},{"b":"M","t":1171,"p":19.37},{"b":"M","t":1178,"p":19.40},{"b":"M","t":1185,"p":19.43},{"b":"M","t":1191,"p":19.60},{"b":"M","t":1198,"p":19.80},{"b":"M","t":1208,"p":19.93},{"b":"M","t":1215,"p":20.00},{"b":"M","t":1221,"p":19.97},{"b":"M","t":1228,"p":19.90},{"b":"M","t":1231,"p":19.80},{"b":"M","t":1238,"p":19.57},{"b":"M","t":1245,"p":19.30},{"b":"M","t":1251,"p":19.10},{"b":"M","t":1258,"p":18.93},{"b":"M","t":1268,"p":18.93},{"b":"M","t":1278,"p":18.83},{"b":"M","t":1285,"p":18.70},{"b":"M","t":1291,"p":18.43},{"b":"M","t":1298,"p":18.17},{"b":"M","t":1305,"p":18.00},{"b":"M","t":1311,"p":17.87},{"b":"M","t":1318,"p":17.97},{"b":"M","t":1325,"p":18.10},{"b":"M","t":1331,"p":18.30},{"b":"M","t":1338,"p":18.50},{"b":"M","t":1345,"p":18.57},{"b":"M","t":1351,"p":18.50},{"b":"M","t":1361,"p":18.47},{"b":"M","t":1371,"p":18.43},{"b":"M","t":1381,"p":18.50},{"b":"M","t":1391,"p":18.53},{"b":"M","t":1398,"p":18.57},{"b":"M","t":1408,"p":18.60},{"b":"M","t":1418,"p":18.63},{"b":"M","t":1425,"p":18.50},{"b":"M","t":1431,"p":18.37},{"b":"M","t":1438,"p":18.20},{"b":"M","t":1445,"p":18.10},{"b":"M","t":1451,"p":18.00},{"b":"M","t":1458,"p":17.87},{"b":"M","t":1461,"p":17.83},
{"b":"L","t":-2,"p":16.47},{"b":"L","t":6,"p":16.42},{"b":"L","t":11,"p":16.48},{"b":"L","t":18,"p":16.40},{"b":"L","t":25,"p":16.10},{"b":"L","t":31,"p":16.07},{"b":"L","t":41,"p":16.27},{"b":"L","t":50,"p":16.40},{"b":"L","t":56,"p":16.30},{"b":"L","t":65,"p":16.53},{"b":"L","t":71,"p":17.00},{"b":"L","t":76,"p":17.55},{"b":"L","t":78,"p":17.60},{"b":"L","t":81,"p":17.00},{"b":"L","t":88,"p":16.67},{"b":"L","t":98,"p":16.60},{"b":"L","t":103,"p":16.73},{"b":"L","t":123,"p":16.72},{"b":"L","t":131,"p":16.80},{"b":"L","t":141,"p":16.80},{"b":"L","t":151,"p":17.00},{"b":"L","t":161,"p":17.30},{"b":"L","t":171,"p":17.17},{"b":"L","t":185,"p":16.97},{"b":"L","t":198,"p":16.90},{"b":"L","t":211,"p":16.95},{"b":"L","t":218,"p":16.67},{"b":"L","t":226,"p":15.83},{"b":"L","t":231,"p":15.75},{"b":"L","t":236,"p":16.00},{"b":"L","t":241,"p":16.13},{"b":"L","t":248,"p":16.05},{"b":"L","t":261,"p":16.33},{"b":"L","t":271,"p":16.53},{"b":"L","t":281,"p":16.53},{"b":"L","t":288,"p":16.37},{"b":"L","t":293,"p":16.22},{"b":"L","t":298,"p":16.40},{"b":"L","t":305,"p":16.83},{"b":"L","t":310,"p":17.30},{"b":"L","t":315,"p":16.83},{"b":"L","t":321,"p":16.43},{"b":"L","t":328,"p":16.20},{"b":"L","t":335,"p":16.67},{"b":"L","t":338,"p":16.90},{"b":"L","t":351,"p":16.92},{"b":"L","t":358,"p":16.90},{"b":"L","t":368,"p":16.72},{"b":"L","t":378,"p":16.83},{"b":"L","t":385,"p":17.10},{"b":"L","t":391,"p":17.07},{"b":"L","t":398,"p":17.13},{"b":"L","t":405,"p":16.83},{"b":"L","t":411,"p":16.70},{"b":"L","t":418,"p":16.67},{"b":"L","t":425,"p":16.70},{"b":"L","t":430,"p":16.70},{"b":"L","t":433,"p":16.40},{"b":"L","t":438,"p":16.10},{"b":"L","t":445,"p":15.87},{"b":"L","t":451,"p":15.83},{"b":"L","t":458,"p":16.03},{"b":"L","t":468,"p":16.10},{"b":"L","t":478,"p":16.17},{"b":"L","t":485,"p":15.83},{"b":"L","t":491,"p":15.50},{"b":"L","t":498,"p":15.07},{"b":"L","t":505,"p":15.08},{"b":"L","t":511,"p":15.10},{"b":"L","t":518,"p":15.53},{"b":"L","t":525,"p":16.30},{"b":"L","t":531,"p":16.67},{"b":"L","t":538,"p":16.77},{"b":"L","t":548,"p":16.80},{"b":"L","t":555,"p":16.63},{"b":"L","t":565,"p":16.70},{"b":"L","t":575,"p":16.87},{"b":"L","t":585,"p":16.67},{"b":"L","t":591,"p":16.58},{"b":"L","t":601,"p":16.73},{"b":"L","t":615,"p":16.72},{"b":"L","t":621,"p":16.67},{"b":"L","t":628,"p":16.57},{"b":"L","t":635,"p":16.47},{"b":"L","t":641,"p":16.70},{"b":"L","t":651,"p":17.17},{"b":"L","t":658,"p":17.67},{"b":"L","t":665,"p":17.93},{"b":"L","t":675,"p":18.07},{"b":"L","t":681,"p":18.10},{"b":"L","t":688,"p":17.77},{"b":"L","t":695,"p":17.63},{"b":"L","t":701,"p":17.67},{"b":"L","t":705,"p":17.83},{"b":"L","t":711,"p":17.83},{"b":"L","t":715,"p":17.75},{"b":"L","t":721,"p":17.93},{"b":"L","t":731,"p":18.33},{"b":"L","t":741,"p":18.53},{"b":"L","t":748,"p":18.58},{"b":"L","t":758,"p":18.53},{"b":"L","t":765,"p":18.47},{"b":"L","t":771,"p":18.53},{"b":"L","t":778,"p":18.77},{"b":"L","t":785,"p":19.23},{"b":"L","t":791,"p":19.37},{"b":"L","t":795,"p":19.23},{"b":"L","t":805,"p":19.20},{"b":"L","t":811,"p":19.17},{"b":"L","t":816,"p":18.83},{"b":"L","t":821,"p":17.83},{"b":"L","t":828,"p":17.00},{"b":"L","t":833,"p":16.75},{"b":"L","t":838,"p":17.17},{"b":"L","t":841,"p":17.37},{"b":"L","t":848,"p":17.57},{"b":"L","t":855,"p":17.70},{"b":"L","t":861,"p":17.75},{"b":"L","t":871,"p":17.77},{"b":"L","t":875,"p":17.73},{"b":"L","t":878,"p":17.33},{"b":"L","t":885,"p":17.10},{"b":"L","t":891,"p":17.07},{"b":"L","t":898,"p":17.13},{"b":"L","t":905,"p":17.30},{"b":"L","t":908,"p":17.47},{"b":"L","t":915,"p":17.50},{"b":"L","t":925,"p":17.73},{"b":"L","t":931,"p":17.93},{"b":"L","t":938,"p":17.87},{"b":"L","t":945,"p":17.83},{"b":"L","t":951,"p":17.78},{"b":"L","t":958,"p":17.82},{"b":"L","t":971,"p":17.80},{"b":"L","t":978,"p":17.70},{"b":"L","t":985,"p":17.27},{"b":"L","t":991,"p":17.13},{"b":"L","t":995,"p":17.10},{"b":"L","t":998,"p":17.17},{"b":"L","t":1001,"p":17.10},{"b":"L","t":1005,"p":17.27},{"b":"L","t":1008,"p":17.73},{"b":"L","t":1011,"p":18.07},{"b":"L","t":1015,"p":18.83},{"b":"L","t":1018,"p":19.07},{"b":"L","t":1021,"p":18.80},{"b":"L","t":1025,"p":18.53},{"b":"L","t":1028,"p":18.40},{"b":"L","t":1031,"p":18.37},{"b":"L","t":1035,"p":18.40},{"b":"L","t":1038,"p":18.53},{"b":"L","t":1041,"p":18.73},{"b":"L","t":1045,"p":18.63},{"b":"L","t":1048,"p":18.53},{"b":"L","t":1055,"p":18.53},{"b":"L","t":1061,"p":18.47},{"b":"L","t":1068,"p":18.40},{"b":"L","t":1071,"p":18.67},{"b":"L","t":1075,"p":18.83},{"b":"L","t":1078,"p":19.07},{"b":"L","t":1085,"p":19.37},{"b":"L","t":1091,"p":19.40},{"b":"L","t":1098,"p":19.23},{"b":"L","t":1105,"p":19.17},{"b":"L","t":1111,"p":19.13},{"b":"L","t":1118,"p":19.13},{"b":"L","t":1125,"p":19.10},{"b":"L","t":1131,"p":19.20},{"b":"L","t":1138,"p":19.37},{"b":"L","t":1141,"p":19.47},{"b":"L","t":1148,"p":19.37},{"b":"L","t":1155,"p":19.20},{"b":"L","t":1161,"p":19.20},{"b":"L","t":1168,"p":19.23},{"b":"L","t":1171,"p":19.03},{"b":"L","t":1178,"p":18.95},{"b":"L","t":1185,"p":18.93},{"b":"L","t":1191,"p":18.82},{"b":"L","t":1195,"p":19.00},{"b":"L","t":1201,"p":19.33},{"b":"L","t":1208,"p":19.57},{"b":"L","t":1215,"p":19.67},{"b":"L","t":1221,"p":19.70},{"b":"L","t":1228,"p":19.67},{"b":"L","t":1231,"p":19.53},{"b":"L","t":1235,"p":19.03},{"b":"L","t":1238,"p":18.63},{"b":"L","t":1245,"p":18.70},{"b":"L","t":1251,"p":18.67},{"b":"L","t":1255,"p":18.53},{"b":"L","t":1258,"p":18.43},{"b":"L","t":1265,"p":18.47},{"b":"L","t":1271,"p":18.47},{"b":"L","t":1278,"p":18.37},{"b":"L","t":1285,"p":18.17},{"b":"L","t":1288,"p":17.87},{"b":"L","t":1291,"p":17.57},{"b":"L","t":1298,"p":17.48},{"b":"L","t":1305,"p":17.50},{"b":"L","t":1311,"p":17.68},{"b":"L","t":1318,"p":17.60},{"b":"L","t":1321,"p":17.57},{"b":"L","t":1328,"p":17.60},{"b":"L","t":1333,"p":17.87},{"b":"L","t":1338,"p":18.10},{"b":"L","t":1345,"p":18.20},{"b":"L","t":1351,"p":18.13},{"b":"L","t":1358,"p":18.07},{"b":"L","t":1365,"p":18.07},{"b":"L","t":1371,"p":18.07},{"b":"L","t":1378,"p":18.13},{"b":"L","t":1381,"p":18.33},{"b":"L","t":1388,"p":18.30},{"b":"L","t":1398,"p":18.18},{"b":"L","t":1408,"p":18.17},{"b":"L","t":1418,"p":18.23},{"b":"L","t":1425,"p":18.17},{"b":"L","t":1431,"p":18.03},{"b":"L","t":1438,"p":17.90},{"b":"L","t":1445,"p":17.73},{"b":"L","t":1451,"p":17.60},{"b":"L","t":1458,"p":17.50}
],
"sig":[
{"t":0,"s":0.078},{"t":8,"s":0.100},{"t":18,"s":0.144},{"t":28,"s":0.078},{"t":36,"s":-0.011},{"t":43,"s":-0.022},{"t":48,"s":0.011},{"t":58,"s":0.111},{"t":68,"s":0.222},{"t":75,"s":0.333},{"t":80,"s":0.322},{"t":85,"s":0.211},{"t":91,"s":0.111},{"t":98,"s":0.0},{"t":105,"s":-0.056},{"t":113,"s":-0.067},{"t":123,"s":-0.033},{"t":133,"s":0.022},{"t":143,"s":0.078},{"t":153,"s":0.133},{"t":163,"s":0.178},{"t":173,"s":0.156},{"t":180,"s":0.078},{"t":188,"s":0.0},{"t":198,"s":-0.033},{"t":208,"s":-0.044},{"t":218,"s":-0.100},{"t":226,"s":-0.200},{"t":233,"s":-0.278},{"t":243,"s":-0.200},{"t":253,"s":-0.089},{"t":263,"s":0.0},{"t":273,"s":0.056},{"t":283,"s":0.089},{"t":293,"s":0.144},{"t":303,"s":0.244},{"t":313,"s":0.389},{"t":323,"s":0.389},{"t":333,"s":0.189},{"t":343,"s":0.0},{"t":353,"s":-0.078},{"t":363,"s":-0.033},{"t":373,"s":0.044},{"t":383,"s":0.089},{"t":393,"s":0.089},{"t":403,"s":0.044},{"t":413,"s":-0.022},{"t":423,"s":-0.067},{"t":433,"s":-0.100},{"t":443,"s":-0.167},{"t":453,"s":-0.222},{"t":463,"s":-0.267},{"t":473,"s":-0.267},{"t":483,"s":-0.278},{"t":493,"s":-0.322},{"t":503,"s":-0.311},{"t":513,"s":-0.200},{"t":523,"s":-0.033},{"t":533,"s":0.133},{"t":543,"s":0.222},{"t":553,"s":0.256},{"t":563,"s":0.244},{"t":573,"s":0.211},{"t":583,"s":0.133},{"t":593,"s":0.056},{"t":603,"s":0.0},{"t":613,"s":-0.011},{"t":623,"s":0.022},{"t":633,"s":0.111},{"t":643,"s":0.244},{"t":653,"s":0.378},{"t":663,"s":0.467},{"t":673,"s":0.489},{"t":683,"s":0.411},{"t":693,"s":0.278},{"t":703,"s":0.156},{"t":713,"s":0.089},{"t":723,"s":0.089},{"t":733,"s":0.133},{"t":743,"s":0.167},{"t":753,"s":0.167},{"t":763,"s":0.189},{"t":773,"s":0.244},{"t":783,"s":0.300},{"t":793,"s":0.311},{"t":803,"s":0.267},{"t":813,"s":0.167},{"t":823,"s":0.022},{"t":833,"s":-0.167},{"t":843,"s":-0.344},{"t":853,"s":-0.433},{"t":863,"s":-0.422},{"t":873,"s":-0.367},{"t":883,"s":-0.322},{"t":893,"s":-0.300},{"t":903,"s":-0.233},{"t":913,"s":-0.144},{"t":923,"s":-0.033},{"t":933,"s":0.044},{"t":943,"s":0.078},{"t":955,"s":0.033},{"t":961,"s":0.0},{"t":968,"s":-0.011},{"t":978,"s":-0.033},{"t":985,"s":-0.033},{"t":991,"s":0.022},{"t":996,"s":0.133},{"t":1000,"s":0.267},{"t":1003,"s":0.389},{"t":1006,"s":0.522},{"t":1010,"s":0.667},{"t":1013,"s":0.767},{"t":1016,"s":0.822},{"t":1021,"s":0.778},{"t":1025,"s":0.656},{"t":1028,"s":0.522},{"t":1031,"s":0.356},{"t":1035,"s":0.211},{"t":1040,"s":0.100},{"t":1045,"s":0.0},{"t":1050,"s":-0.067},{"t":1055,"s":-0.122},{"t":1061,"s":-0.122},{"t":1068,"s":-0.056},{"t":1075,"s":0.056},{"t":1081,"s":0.122},{"t":1088,"s":0.156},{"t":1095,"s":0.144},{"t":1101,"s":0.100},{"t":1108,"s":0.056},{"t":1115,"s":0.022},{"t":1121,"s":0.022},{"t":1128,"s":0.056},{"t":1135,"s":0.111},{"t":1141,"s":0.133},{"t":1148,"s":0.111},{"t":1155,"s":0.067},{"t":1161,"s":0.011},{"t":1168,"s":-0.033},{"t":1175,"s":-0.067},{"t":1181,"s":-0.067},{"t":1188,"s":-0.011},{"t":1195,"s":0.078},{"t":1201,"s":0.144},{"t":1208,"s":0.178},{"t":1215,"s":0.156},{"t":1221,"s":0.133},{"t":1228,"s":0.111},{"t":1235,"s":0.044},{"t":1240,"s":-0.033},{"t":1245,"s":-0.144},{"t":1253,"s":-0.200},{"t":1263,"s":-0.256},{"t":1273,"s":-0.300},{"t":1283,"s":-0.333},{"t":1293,"s":-0.356},{"t":1303,"s":-0.367},{"t":1313,"s":-0.322},{"t":1323,"s":-0.233},{"t":1333,"s":-0.144},{"t":1343,"s":-0.056},{"t":1353,"s":0.0},{"t":1363,"s":0.022},{"t":1373,"s":0.044},{"t":1383,"s":0.056},{"t":1393,"s":0.056},{"t":1403,"s":0.078},{"t":1413,"s":0.056},{"t":1423,"s":0.011},{"t":1433,"s":-0.033},{"t":1443,"s":-0.100},{"t":1453,"s":-0.167},{"t":1460,"s":-0.226}
],
"trend":[{"t":1008,"t2":1470,"p":21.83,"p2":18.48}],
"hl":[{"p":17.695}],
"lab":[{"t":1180,"p":21.32,"s":"4H"}],
"ttl":[{"t":1,"p":21.895,"s":"XAGUSD-mrg, H4:  SILVER"}],
"sep":[{"v":1.0833},{"v":1.0611}],
"zero":[{"v":0}],
"mlab":[{"t":-2,"v":0.922,"s":"12,26,9) -0.232 -0.226"}]
},
"vconcat":[
{
"width":1472,"height":698,
"layer":[
{"data":{"name":"hl"},"mark":{"type":"rule","color":"#9a9a9a","strokeWidth":1},
 "encoding":{"y":{"field":"p","type":"quantitative","scale":{"domain":[15.02,22.0],"nice":false,"zero":false},"axis":null}}},
{"data":{"name":"bars"},"mark":{"type":"rule","strokeWidth":2,"clip":true},
 "encoding":{"x":{"field":"t","type":"quantitative","scale":{"domain":[-2,1470],"nice":false,"zero":false},"axis":null},
  "y":{"field":"l","type":"quantitative","scale":{"domain":[15.02,22.0],"nice":false,"zero":false},"axis":null},
  "y2":{"field":"h"},
  "color":{"field":"d","type":"nominal","scale":{"domain":["u","d"],"range":["#00ff00","#ff0000"]},"legend":null}}},
{"data":{"name":"bands"},"mark":{"type":"line","color":"#ffff00","strokeWidth":1,"clip":true},
 "encoding":{"x":{"field":"t","type":"quantitative","scale":{"domain":[-2,1470],"nice":false,"zero":false},"axis":null},
  "y":{"field":"p","type":"quantitative","scale":{"domain":[15.02,22.0],"nice":false,"zero":false},"axis":null},
  "detail":{"field":"b","type":"nominal"}}},
{"data":{"name":"trend"},"mark":{"type":"rule","color":"#ff0000","strokeWidth":2.5,"clip":true},
 "encoding":{"x":{"field":"t","type":"quantitative","scale":{"domain":[-2,1470],"nice":false,"zero":false},"axis":null},
  "x2":{"field":"t2"},
  "y":{"field":"p","type":"quantitative","scale":{"domain":[15.02,22.0],"nice":false,"zero":false},"axis":null},
  "y2":{"field":"p2"}}},
{"data":{"name":"lab"},"mark":{"type":"text","color":"#ff0000","font":"Liberation Sans","fontSize":37,"align":"center","baseline":"alphabetic"},
 "encoding":{"x":{"field":"t","type":"quantitative","scale":{"domain":[-2,1470],"nice":false,"zero":false},"axis":null},
  "y":{"field":"p","type":"quantitative","scale":{"domain":[15.02,22.0],"nice":false,"zero":false},"axis":null},
  "text":{"field":"s"}}},
{"data":{"name":"ttl"},"mark":{"type":"text","color":"#ffffff","font":"Liberation Sans","fontSize":9.5,"align":"left","baseline":"alphabetic"},
 "encoding":{"x":{"field":"t","type":"quantitative","scale":{"domain":[-2,1470],"nice":false,"zero":false},"axis":null},
  "y":{"field":"p","type":"quantitative","scale":{"domain":[15.02,22.0],"nice":false,"zero":false},"axis":null},
  "text":{"field":"s"}}}
]
},
{
"width":1472,"height":156,
"layer":[
{"data":{"name":"zero"},"mark":{"type":"rule","color":"#7b8ba0","strokeWidth":1,"strokeDash":[2,2]},
 "encoding":{"y":{"field":"v","type":"quantitative","scale":{"domain":[-0.6333,1.1],"nice":false,"zero":false},"axis":null}}},
{"data":{"name":"bars"},"mark":{"type":"rule","color":"#c0c0c0","strokeWidth":2},
 "encoding":{"x":{"field":"t","type":"quantitative","scale":{"domain":[-2,1470],"nice":false,"zero":false},"axis":null},
  "y":{"field":"m","type":"quantitative","scale":{"domain":[-0.6333,1.1],"nice":false,"zero":false},"axis":null},
  "y2":{"datum":0}}},
{"data":{"name":"sig"},"mark":{"type":"line","color":"#ff0000","strokeWidth":1.5,"strokeDash":[3,3]},
 "encoding":{"x":{"field":"t","type":"quantitative","scale":{"domain":[-2,1470],"nice":false,"zero":false},"axis":null},
  "y":{"field":"s","type":"quantitative","scale":{"domain":[-0.6333,1.1],"nice":false,"zero":false},"axis":null}}},
{"data":{"name":"sep"},"mark":{"type":"rule","color":"#ffffff","strokeWidth":1},
 "encoding":{"y":{"field":"v","type":"quantitative","scale":{"domain":[-0.6333,1.1],"nice":false,"zero":false},"axis":null}}},
{"data":{"name":"mlab"},"mark":{"type":"text","color":"#ffffff","font":"Liberation Sans","fontSize":9.5,"align":"left","baseline":"alphabetic"},
 "encoding":{"x":{"field":"t","type":"quantitative","scale":{"domain":[-2,1470],"nice":false,"zero":false},"axis":null},
  "y":{"field":"v","type":"quantitative","scale":{"domain":[-0.6333,1.1],"nice":false,"zero":false},"axis":null},
  "text":{"field":"s"}}}
]
}
]
}
